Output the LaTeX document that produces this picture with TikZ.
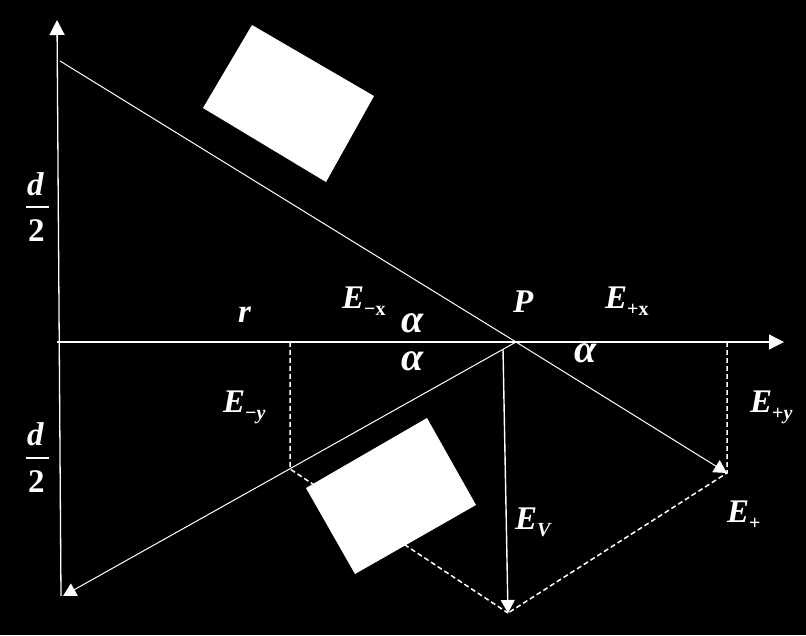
\documentclass[tikz,border=0pt]{standalone}
\usepackage{fontspec}
\setmainfont{Liberation Serif}
\usetikzlibrary{arrows.meta}

\newcommand\lsub[1]{\raisebox{-7pt}{\fontsize{20}{24}\selectfont #1}}

\begin{document}
\begin{tikzpicture}[x=1pt,y=-1pt,
		axis/.style={white,line width=1.3pt,-{Triangle[length=15pt,width=15pt]}},
		field/.style={white,line width=1pt,-{Triangle[length=13pt,width=14pt]}},
		comp/.style={white,line width=1.5pt,dash pattern=on 5pt off 3pt},
		lab/.style={text=white,inner sep=0pt,anchor=base west,font=\fontsize{33}{40}\selectfont\bfseries\itshape},
		angle lab/.style={lab,font=\fontsize{40}{48}\selectfont\bfseries\itshape},
		fracbar/.style={fill=white,inner sep=0pt,minimum width=23pt,minimum height=1.2pt},
		block/.style={fill=white}]
	\fill[black] (0,0) rectangle (806,635);
	
	\coordinate (o0) at (61,596);
	\coordinate (oy) at (57,20);
	\coordinate (ox0) at (57,342);
	\coordinate (ox1) at (784,342);
	\coordinate (q0) at (60,61);
	\coordinate (q1) at (63,596);
	\coordinate (p) at (516,342);
	\coordinate (pv) at (503,349);
	\coordinate (ev) at (508,613);
	\coordinate (ep) at (727,473);
	\coordinate (emx) at (290,342);
	\coordinate (em) at (290,469);
	\coordinate (epx) at (727,342);
	
	\draw[axis] (o0) -- (oy);
	\draw[axis] (ox0) -- (ox1);
	\draw[field] (q0) -- (p) -- (ep);
	\draw[field] (p) -- (q1);
	\draw[field,line width=1.4pt] (pv) -- (ev);
	
	\draw[comp] (emx) -- (em) -- (ev);
	\draw[comp] (epx) -- (ep) -- (ev);
	
	\fill[block] (203,108) -- (252,25) -- (374,96) -- (326,182) -- cycle;
	\fill[block] (306,488) -- (427,418) -- (476,505) -- (355,574) -- cycle;
	
	\node[lab] (d0) at (27,195) {d};
	\node[fracbar] (bar0) at (37,207) {};
	\node[lab] (two0) at (28,241) {\upshape 2};
	\node[lab] (d1) at (27,445) {d};
	\node[fracbar] (bar1) at (37,458) {};
	\node[lab] (two1) at (28,492) {\upshape 2};
	
	\node[lab] (r) at (238,322) {r};
	\node[lab] (lemx) at (342,308) {E\lsub{\upshape −x}};
	\node[angle lab] (a0) at (401,332) {α};
	\node[angle lab] (a1) at (401,370) {α};
	\node[lab] (lp) at (513,312) {P};
	\node[lab] (lepx) at (605,308) {E\lsub{\upshape +x}};
	\node[angle lab] (a2) at (574,362) {α};
	\node[lab] (lemy) at (223,412) {E\lsub{\upshape −\itshape y}};
	\node[lab] (lepy) at (750,412) {E\lsub{\upshape +\itshape y}};
	\node[lab] (lev) at (515,529) {E\lsub{V}};
	\node[lab] (lep) at (727,522) {E\lsub{\upshape +}};
\end{tikzpicture}
\end{document}
